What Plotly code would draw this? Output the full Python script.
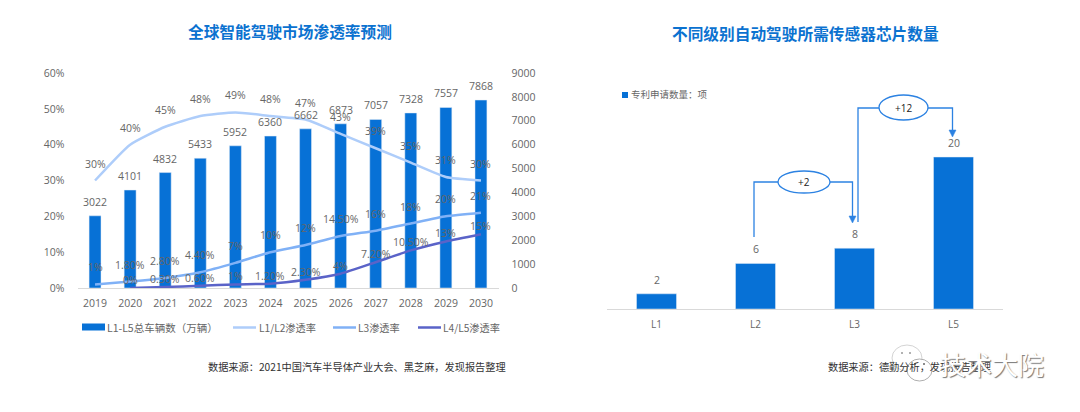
import plotly.graph_objects as go

years = ['2019', '2020', '2021', '2022', '2023', '2024', '2025', '2026', '2027', '2028', '2029', '2030']
vehicles = [3022, 4101, 4832, 5433, 5952, 6360, 6662, 6873, 7057, 7328, 7557, 7868]
l1_l2 = [30, 40, 45, 48, 49, 48, 47, 43, 39, 35, 31, 30]
l3 = [1, 1.8, 2.8, 4.4, 7, 10, 12, 14.5, 16, 18, 20, 21]
l4_l5 = [None, 0, 0.3, 0.6, 1, 1.2, 2.3, 4, 7.2, 10.5, 13, 15]

levels = ['L1', 'L2', 'L3', 'L5']
chips = [2, 6, 8, 20]

BLUE = '#0771D6'
LINE1 = '#AECDFA'
LINE2 = '#80B1F6'
LINE3 = '#5A63C8'
ARROW = '#2C82E2'
GREY = '#666666'
FONT = 'Open Sans, Noto Sans CJK SC'
CJK = 'Noto Sans CJK SC'

# page has an 8px body margin, positions below are window pixels
W, H = 1064, 396


def px(x):
    return (x - 8) / W


def py(y):
    return 1 - (y - 8) / H


def pct(v):
    return f'{v:g}%' if float(v).is_integer() else f'{v:.2f}%'


def label(text, x, y, size=10.5, color=GREY, anchor='center', font=FONT):
    # annotations keep 2px of padding, take it off left aligned text
    if anchor == 'left':
        x -= 2
    return dict(text=text, x=px(x), y=py(y), xref='paper', yref='paper', showarrow=False,
                xanchor=anchor, yanchor='middle', font=dict(size=size, color=color, family=font))


def seg(points, color=ARROW, width=1.3):
    path = 'M ' + ' L '.join(f'{px(a)} {py(b)}' for a, b in points)
    return dict(type='path', path=path, xref='paper', yref='paper', line=dict(color=color, width=width))


def head(x, tip, color=ARROW):
    path = f'M {px(x - 3.5)} {py(tip - 7)} L {px(x + 3.5)} {py(tip - 7)} L {px(x)} {py(tip)} Z'
    return dict(type='path', path=path, xref='paper', yref='paper', fillcolor=color, line=dict(color=color, width=0.5))


def oval(x0, x1, y0, y1, fill='white', color=ARROW, width=1.3):
    return dict(type='circle', xref='paper', yref='paper', x0=px(x0), x1=px(x1), y0=py(y1), y1=py(y0),
                fillcolor=fill, line=dict(color=color, width=width))


def curve(color):
    return dict(color=color, width=2.5, shape='spline', smoothing=0.5)


fig = go.Figure()
fig.add_trace(go.Bar(x=years, y=vehicles, name='L1-L5总车辆数（万辆）', marker_color=BLUE, xaxis='x', yaxis='y'))
fig.add_trace(go.Scatter(x=years, y=l1_l2, name='L1/L2渗透率', mode='lines', xaxis='x', yaxis='y2', line=curve(LINE1)))
fig.add_trace(go.Scatter(x=years, y=l3, name='L3渗透率', mode='lines', xaxis='x', yaxis='y2', line=curve(LINE2)))
fig.add_trace(go.Scatter(x=years, y=l4_l5, name='L4/L5渗透率', mode='lines', xaxis='x', yaxis='y2', line=curve(LINE3)))
fig.add_trace(go.Bar(x=levels, y=chips, name='专利申请数量：项', marker_color=BLUE, xaxis='x2', yaxis='y3',
                     width=0.404))

# category axis reads '2019' as an index, so value labels go by position
notes = []
for i, v in enumerate(vehicles):
    notes.append(dict(x=i, y=v, xref='x', yref='y', text=str(v), yshift=14))
for series, shift in ((l1_l2, 17), (l3, 17), (l4_l5, 8)):
    for i, v in enumerate(series):
        if v is not None:
            notes.append(dict(x=i, y=v, xref='x', yref='y2', text=pct(v), yshift=shift))
for i, v in enumerate(chips):
    notes.append(dict(x=i, y=v, xref='x2', yref='y3', text=str(v), yshift=14))
for n in notes:
    n.update(showarrow=False, yanchor='middle', font=dict(size=10.5, color=GREY, family=FONT))

# titles, sources, hand drawn legends
notes += [
    label('<b>全球智能驾驶市场渗透率预测</b>', 289.5, 32, 15.7, '#0B72D0', font=CJK),
    label('<b>不同级别自动驾驶所需传感器芯片数量</b>', 805.5, 33, 15.7, '#0B72D0', font=CJK),
    label('数据来源：2021中国汽车半导体产业大会、黑芝麻，发现报告整理', 208, 366, 10.2, '#333333', 'left', CJK),
    label('数据来源：德勤分析，发现报告整理', 828, 366, 10.2, '#333333', 'left', CJK),
    label('L1-L5总车辆数（万辆）', 107, 327, 10.5, GREY, 'left', CJK),
    label('L1/L2渗透率', 259, 327, 10.2, GREY, 'left', CJK),
    label('L3渗透率', 358, 327, 10.2, GREY, 'left', CJK),
    label('L4/L5渗透率', 443, 327, 10.2, GREY, 'left', CJK),
    label('专利申请数量：项', 631, 94, 9.5, GREY, 'left', CJK),
    label('+2', 804, 182, 10, '#222222'),
    label('+12', 903, 107.5, 10, '#222222'),
    label('技术大院', 992, 363, 26, 'white', font=CJK),
]
notes[-1]['font']['shadow'] = '1px 1px 1px #777777'

shapes = [
    dict(type='rect', xref='paper', yref='paper', x0=px(82), x1=px(105), y0=py(330.5), y1=py(323.5),
         fillcolor=BLUE, line_width=0),
    seg([(233, 327.5), (256, 327.5)], LINE1, 2.5),
    seg([(333, 327.5), (356, 327.5)], LINE2, 2.5),
    seg([(418, 327.5), (441, 327.5)], LINE3, 2.5),
    dict(type='rect', xref='paper', yref='paper', x0=px(622), x1=px(628), y0=py(98), y1=py(92),
         fillcolor=BLUE, line_width=0),
    seg([(754, 237), (754, 182), (780, 182)]),
    seg([(828, 182), (852.5, 182), (852.5, 218)]),
    head(852.5, 223),
    oval(778, 830, 171, 193),
    seg([(858, 222), (858, 108), (881, 108)]),
    seg([(926, 108), (952.5, 108), (952.5, 132)]),
    head(952.5, 137),
    oval(879, 928, 95, 120),
    # watermark bubbles
    oval(892, 922, 345, 371, 'rgba(255,255,255,0.9)', '#C8C8C8', 0.8),
    oval(907, 932, 359, 381, 'rgba(255,255,255,0.9)', '#999999', 0.8),
    oval(901, 903, 352, 354, '#999999', '#999999', 0),
    oval(909, 911, 352, 354, '#999999', '#999999', 0),
    oval(914, 916, 363, 365, '#666666', '#666666', 0),
    oval(923, 925, 363, 365, '#666666', '#666666', 0),
]

tick_font = dict(size=10.5, color=GREY, family=FONT)
clear = 'rgba(0,0,0,0)'

fig.update_layout(
    width=W, height=H, margin=dict(l=0, r=0, t=0, b=0), paper_bgcolor='white', plot_bgcolor='white',
    showlegend=False, bargap=0.66, annotations=notes, shapes=shapes,
    xaxis=dict(domain=[px(77.5), px(498.5)], anchor='y', type='category', range=[-0.5, 11.5], showgrid=False,
               automargin=False, showline=True, linecolor='#D9D9D9', ticks='outside', ticklen=5, tickcolor=clear,
               tickfont=tick_font),
    yaxis=dict(domain=[py(288), py(73)], range=[0, 9000], dtick=1000, side='right', anchor='x', showgrid=False,
               automargin=False, zeroline=False, ticks='outside', ticklen=10, tickcolor=clear, tickfont=tick_font),
    yaxis2=dict(domain=[py(288), py(73)], range=[0, 60], dtick=10, ticksuffix='%', side='left', overlaying='y',
                anchor='x', showgrid=False, automargin=False, zeroline=False, ticks='outside', ticklen=10,
                tickcolor=clear, tickfont=tick_font),
    xaxis2=dict(domain=[px(607), px(1003)], anchor='y3', type='category', range=[-0.5, 3.5], showgrid=False,
                automargin=False, showline=True, linecolor='#D9D9D9', ticks='outside', ticklen=6, tickcolor=clear,
                tickfont=dict(size=10, color=GREY, family=FONT)),
    yaxis3=dict(domain=[py(309), py(126.6)], range=[0, 24], anchor='x2', visible=False, automargin=False),
)

fig.write_html("out.html")
